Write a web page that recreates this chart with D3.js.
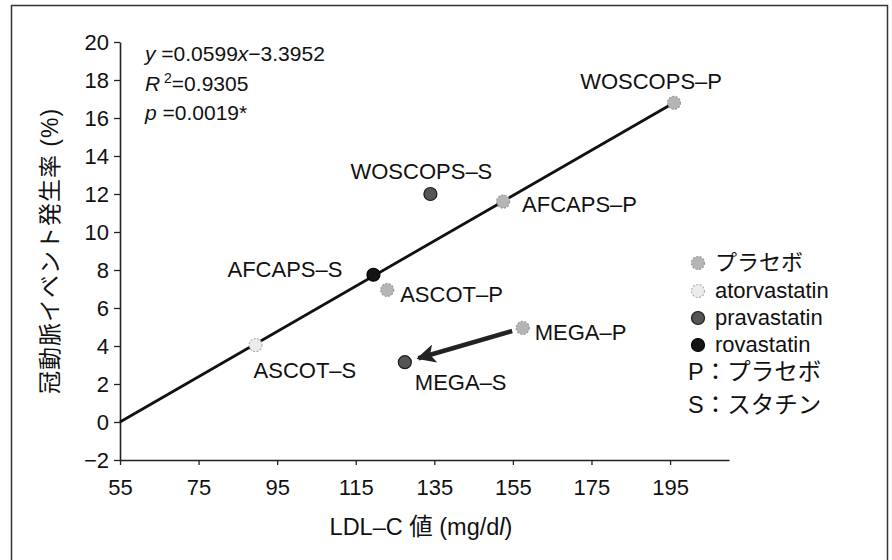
<!DOCTYPE html>
<html>
<head>
<meta charset="utf-8">
<script src="https://cdn.jsdelivr.net/npm/d3@7"></script>
<style>
  body { margin: 0; background: #fff; }
  text { font-family: "Liberation Sans", "Noto Sans CJK JP", sans-serif; fill: #111; }
</style>
</head>
<body>
<div id="chart"></div>
<script>
// data
const studies = ["WOSCOPS-P", "WOSCOPS-S", "AFCAPS-P", "AFCAPS-S", "ASCOT-P", "ASCOT-S", "MEGA-P", "MEGA-S"];
const ldlValues = [196, 134, 152.5, 119.5, 123, 89.5, 157.5, 127.5];
const eventRates = [16.8, 12.0, 11.6, 7.75, 6.95, 4.05, 4.95, 3.15];
const drugs = ["placebo", "pravastatin", "placebo", "rovastatin", "placebo", "atorvastatin", "placebo", "pravastatin"];
const fitLdl = [55, 196];
const fitRate = [0, 16.8];
const xTickValues = [55, 75, 95, 115, 135, 155, 175, 195];
const yTickValues = [-2, 0, 2, 4, 6, 8, 10, 12, 14, 16, 18, 20];
const legendDrugs = ["placebo", "atorvastatin", "pravastatin", "rovastatin"];
const legendNames = ["プラセボ", "atorvastatin", "pravastatin", "rovastatin"];
const legendNotes = ["P：プラセボ", "S：スタチン"];

const W = 892, H = 560;
const margin = {top: 42, right: 163, bottom: 100, left: 120};

const svg = d3.select("#chart").append("svg")
  .attr("width", W).attr("height", H);

// scanned frame (no bottom edge in view)
svg.append("path")
  .attr("d", `M11.5,${H} V5.5 H887.5 V${H}`)
  .attr("fill", "none").attr("stroke", "#333").attr("stroke-width", 1.5);

const x = d3.scaleLinear().domain([55, 210]).range([margin.left, W - margin.right]);
const y = d3.scaleLinear().domain([-2, 20]).range([H - margin.bottom, margin.top]);

const xAxis = svg.append("g")
  .attr("transform", `translate(0,${y(-2)})`)
  .call(d3.axisBottom(x).tickValues(xTickValues).tickSize(5).tickSizeOuter(0).tickPadding(14));
const yAxis = svg.append("g")
  .attr("transform", `translate(${x(55)},0)`)
  .call(d3.axisLeft(y).tickValues(yTickValues).tickSize(6).tickSizeOuter(0).tickPadding(5)
    .tickFormat(d => d < 0 ? "−" + Math.abs(d) : d));

[xAxis, yAxis].forEach(g => {
  g.select(".domain").attr("stroke", "#222").attr("stroke-width", 1.6);
  g.selectAll(".tick line").attr("stroke", "#222").attr("stroke-width", 1.3);
  g.selectAll(".tick text").style("font-size", "22px").attr("fill", "#111");
});
xAxis.selectAll(".tick text").attr("dy", "0.71em");

// regression line
svg.append("line")
  .attr("x1", x(fitLdl[0])).attr("y1", y(fitRate[0]))
  .attr("x2", x(fitLdl[1])).attr("y2", y(fitRate[1]))
  .attr("stroke", "#111").attr("stroke-width", 2.8);

// arrow MEGA-P -> MEGA-S
const defs = svg.append("defs");
defs.append("marker")
  .attr("id", "arrow")
  .attr("viewBox", "0 0 10 10")
  .attr("refX", 9).attr("refY", 5)
  .attr("markerWidth", 5).attr("markerHeight", 4.2)
  .attr("markerUnits", "strokeWidth")
  .attr("orient", "auto")
  .append("path")
  .attr("d", "M0,0 L10,5 L0,10 L2.5,5 Z")
  .attr("fill", "#222");

const iP = studies.indexOf("MEGA-P"), iS = studies.indexOf("MEGA-S");
const p0 = [x(ldlValues[iP]), y(eventRates[iP])], p1 = [x(ldlValues[iS]), y(eventRates[iS])];
const len = Math.hypot(p1[0] - p0[0], p1[1] - p0[1]);
const ux = (p1[0] - p0[0]) / len, uy = (p1[1] - p0[1]) / len;
svg.append("line")
  .attr("x1", p0[0] + ux * 11).attr("y1", p0[1] + uy * 11)
  .attr("x2", p1[0] - ux * 14).attr("y2", p1[1] - uy * 14)
  .attr("stroke", "#222").attr("stroke-width", 4.5)
  .attr("marker-end", "url(#arrow)");

// marker styles
const fillOf = {placebo: "#b5b5b5", atorvastatin: "#ececec", pravastatin: "#555", rovastatin: "#151515"};
const strokeOf = {placebo: "#999", atorvastatin: "#b0b0b0", pravastatin: "#1a1a1a", rovastatin: "#000"};

const points = studies.map((s, i) => ({name: s, ldl: ldlValues[i], rate: eventRates[i], drug: drugs[i]}));

svg.selectAll(".dot")
  .data(points)
  .enter()
  .append("circle")
  .attr("class", "dot")
  .attr("cx", d => x(d.ldl))
  .attr("cy", d => y(d.rate))
  .attr("r", 6.5)
  .attr("fill", d => fillOf[d.drug])
  .attr("stroke", d => strokeOf[d.drug])
  .attr("stroke-width", 1.2)
  .attr("stroke-dasharray", d => (d.drug === "placebo" || d.drug === "atorvastatin") ? "2,1.5" : null);

// label offsets from each point
const labelPos = {
  "WOSCOPS-P": {dx: 48, dy: -14, anchor: "end"},
  "WOSCOPS-S": {dx: -9, dy: -15, anchor: "middle"},
  "AFCAPS-P": {dx: 19, dy: 10, anchor: "start"},
  "AFCAPS-S": {dx: -31, dy: 2, anchor: "end"},
  "ASCOT-P": {dx: 13, dy: 12, anchor: "start"},
  "ASCOT-S": {dx: -2, dy: 33, anchor: "start"},
  "MEGA-P": {dx: 12, dy: 12, anchor: "start"},
  "MEGA-S": {dx: 10, dy: 28, anchor: "start"}
};

svg.selectAll(".label")
  .data(points)
  .enter()
  .append("text")
  .attr("class", "label")
  .attr("x", d => x(d.ldl) + labelPos[d.name].dx)
  .attr("y", d => y(d.rate) + labelPos[d.name].dy)
  .attr("text-anchor", d => labelPos[d.name].anchor)
  .style("font-size", "22px")
  .text(d => d.name.replace("-", "–"));

// regression statistics
const eq = svg.append("g").style("font-size", "21px");
const l1 = eq.append("text").attr("x", 145).attr("y", 61);
l1.append("tspan").style("font-style", "italic").text("y");
l1.append("tspan").text(" =0.0599");
l1.append("tspan").style("font-style", "italic").text("x");
l1.append("tspan").text("−3.3952");
const l2 = eq.append("text").attr("x", 145).attr("y", 91);
l2.append("tspan").style("font-style", "italic").text("R");
l2.append("tspan").attr("dy", -8).style("font-size", "14px").text(" 2");
l2.append("tspan").attr("dy", 8).text("=0.9305");
const l3 = eq.append("text").attr("x", 145).attr("y", 120);
l3.append("tspan").style("font-style", "italic").text("p");
l3.append("tspan").text(" =0.0019*");

// axis titles
svg.append("text")
  .attr("transform", `translate(58,${(y(-2) + y(20)) / 2}) rotate(-90)`)
  .attr("text-anchor", "middle")
  .style("font-size", "23px")
  .style("letter-spacing", "1px")
  .text("冠動脈イベント発生率 (%)");

const xt = svg.append("text")
  .attr("x", 421).attr("y", 535)
  .attr("text-anchor", "middle")
  .style("font-size", "23.5px");
xt.append("tspan").text("LDL–C 値 (mg/d");
xt.append("tspan").style("font-style", "italic").text("l");
xt.append("tspan").text(")");

// legend
const legend = svg.append("g");
const rowY = [263, 291, 318, 345];
legendDrugs.forEach((dr, i) => {
  legend.append("circle")
    .attr("cx", 698).attr("cy", rowY[i]).attr("r", 6.5)
    .attr("fill", fillOf[dr]).attr("stroke", strokeOf[dr]).attr("stroke-width", 1.2)
    .attr("stroke-dasharray", (dr === "placebo" || dr === "atorvastatin") ? "2,1.5" : null);
  legend.append("text")
    .attr("x", 715).attr("y", rowY[i] + 7)
    .style("font-size", "22px")
    .text(legendNames[i]);
});
legendNotes.forEach((t, i) => {
  legend.append("text")
    .attr("x", 688).attr("y", 380 + i * 33)
    .style("font-size", "23.5px")
    .text(t);
});
</script>
</body>
</html>
